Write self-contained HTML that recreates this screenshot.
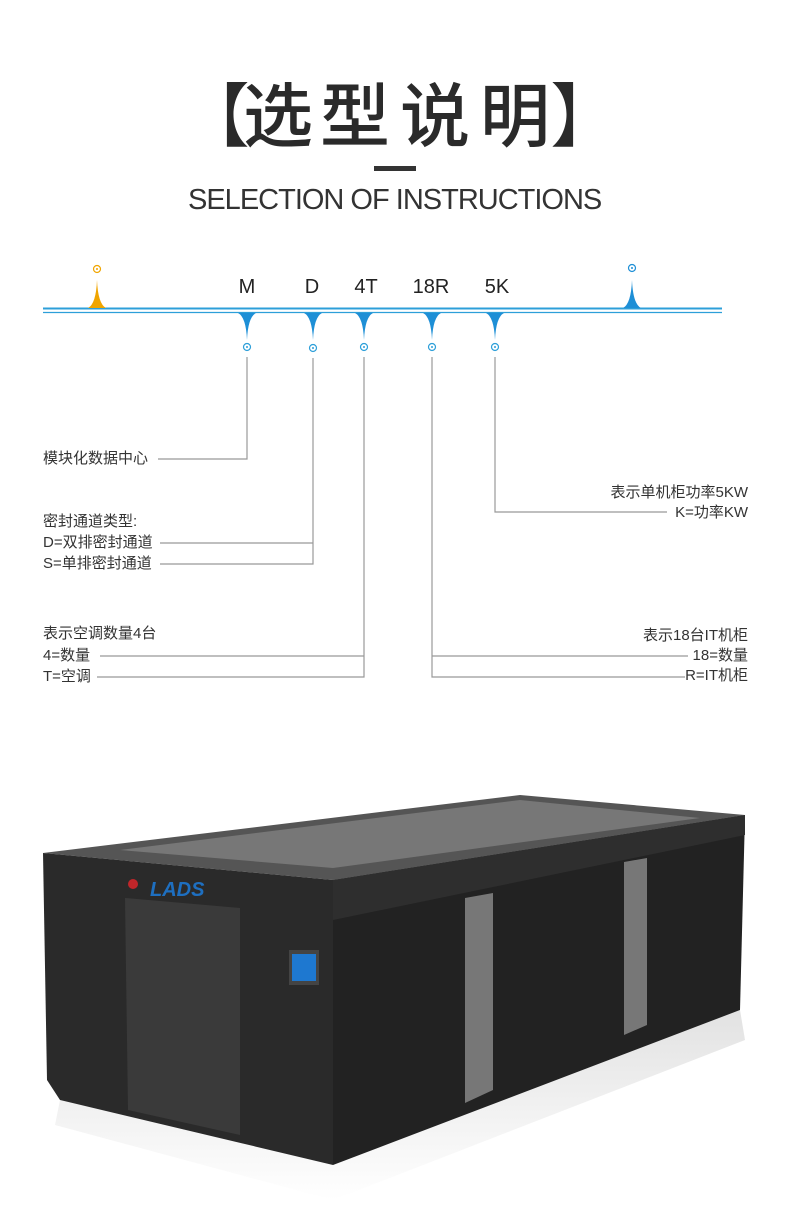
<!DOCTYPE html>
<html><head><meta charset="utf-8"><style>
html,body{margin:0;padding:0;background:#fff;}
body{width:790px;height:1221px;position:relative;overflow:hidden;font-family:"Liberation Sans","Noto Sans CJK SC",sans-serif;}
.t{position:absolute;color:#333;font-size:15px;white-space:nowrap;line-height:16px;}
.h{position:absolute;top:72px;font-size:70px;line-height:80px;font-weight:500;color:#2a2a2a;font-family:"Noto Sans CJK SC",sans-serif;}
</style></head><body>
<div class="h" style="left:180px;font-weight:300;">【</div>
<div class="h" style="left:243px;">选</div>
<div class="h" style="left:320px;">型</div>
<div class="h" style="left:400px;">说</div>
<div class="h" style="left:480px;">明</div>
<div class="h" style="left:550px;font-weight:300;">】</div>
<div style="position:absolute;left:374px;top:166px;width:42px;height:5px;background:#333"></div>
<div class="t" style="left:188px;top:182px;font-size:29px;line-height:36px;color:#333;letter-spacing:-1px;">SELECTION OF INSTRUCTIONS</div>

<svg width="790" height="1221" style="position:absolute;left:0;top:0" xmlns="http://www.w3.org/2000/svg">
<line x1="43" y1="308.5" x2="722" y2="308.5" stroke="#2d9fd9" stroke-width="2"/>
<line x1="43" y1="312.5" x2="722" y2="312.5" stroke="#2d9fd9" stroke-width="1.2"/>
<path d="M88 308 Q96 304 97 280 Q98 304 106 308Z" fill="#f0a500"/>
<circle cx="97" cy="269" r="3.5" fill="none" stroke="#f0a500" stroke-width="1.2"/><circle cx="97" cy="269" r="1" fill="#f0a500"/>
<path d="M623 308 Q631 304 632 280 Q633 304 641 308Z" fill="#1e8fd6"/>
<circle cx="632" cy="268" r="3.5" fill="none" stroke="#1e8fd6" stroke-width="1.2"/><circle cx="632" cy="268" r="1" fill="#1e8fd6"/>
<g fill="#1e8fd6">
<path d="M238 313 Q246 317 247 340 Q248 317 256 313Z"/>
<path d="M304 313 Q312 317 313 340 Q314 317 322 313Z"/>
<path d="M355 313 Q363 317 364 340 Q365 317 373 313Z"/>
<path d="M423 313 Q431 317 432 340 Q433 317 441 313Z"/>
<path d="M486 313 Q494 317 495 340 Q496 317 504 313Z"/>
</g>
<g fill="none" stroke="#2d9fd9" stroke-width="1.2">
<circle cx="247" cy="347" r="3.5"/><circle cx="313" cy="348" r="3.5"/><circle cx="364" cy="347" r="3.5"/><circle cx="432" cy="347" r="3.5"/><circle cx="495" cy="347" r="3.5"/>
</g>
<g fill="#2d9fd9"><circle cx="247" cy="347" r="1"/><circle cx="313" cy="348" r="1"/><circle cx="364" cy="347" r="1"/><circle cx="432" cy="347" r="1"/><circle cx="495" cy="347" r="1"/></g>
<g fill="none" stroke="#999" stroke-width="1.2">
<polyline points="247,357 247,459 158,459"/>
<polyline points="313,358 313,564 160,564"/>
<line x1="160" y1="543" x2="313" y2="543"/>
<polyline points="364,357 364,677 97,677"/>
<line x1="100" y1="656" x2="364" y2="656"/>
<polyline points="432,357 432,677 685,677"/>
<line x1="432" y1="656" x2="688" y2="656"/>
<polyline points="495,357 495,512 667,512"/>
</g>
<g font-family="Liberation Sans,sans-serif" font-size="20" fill="#222" text-anchor="middle">
<text x="247" y="293">M</text><text x="312" y="293">D</text><text x="366" y="293">4T</text><text x="431" y="293">18R</text><text x="497" y="293">5K</text>
</g>

<defs><linearGradient id="sh" x1="0" y1="0" x2="0" y2="1"><stop offset="0" stop-color="#e2e2e2"/><stop offset="1" stop-color="#fff"/></linearGradient></defs>
<polygon points="60,1100 333,1165 740,1010 745,1040 333,1200 55,1125" fill="url(#sh)"/>
<polygon points="43,853 520,795 745,815 333,880" fill="#555"/>
<polygon points="120,850 520,800 700,818 333,868" fill="#9a9a9a" opacity="0.5"/>
<polygon points="43,853 333,880 333,1165 60,1100 47,1080" fill="#2a2a2a"/>
<polygon points="333,880 745,815 740,1010 333,1165" fill="#222"/>
<polygon points="333,880 745,815 745,835 333,920" fill="#2e2e2e"/>
<polygon points="125,898 240,908 240,1135 128,1110" fill="#3a3a3a"/>
<polygon points="465,898 493,893 493,1090 465,1103" fill="#777"/>
<polygon points="624,862 647,858 647,1025 624,1035" fill="#777"/>
<rect x="289" y="950" width="30" height="35" fill="#444"/><rect x="292" y="954" width="24" height="27" fill="#1e78d0"/>
<circle cx="133" cy="884" r="5" fill="#c0262a"/>
<text x="150" y="896" font-family="Liberation Sans,sans-serif" font-weight="bold" font-style="italic" font-size="20" fill="#1e6fc0">LADS</text>
</svg>

<div class="t" style="left:43px;top:451px;">模块化数据中心</div>
<div class="t" style="left:43px;top:514px;">密封通道类型:</div>
<div class="t" style="left:43px;top:535px;">D=双排密封通道</div>
<div class="t" style="left:43px;top:556px;">S=单排密封通道</div>
<div class="t" style="left:43px;top:626px;">表示空调数量4台</div>
<div class="t" style="left:43px;top:648px;">4=数量</div>
<div class="t" style="left:43px;top:669px;">T=空调</div>
<div class="t" style="right:42px;top:485px;text-align:right;">表示单机柜功率5KW</div>
<div class="t" style="right:42px;top:505px;text-align:right;">K=功率KW</div>
<div class="t" style="right:42px;top:628px;text-align:right;">表示18台IT机柜</div>
<div class="t" style="right:42px;top:648px;text-align:right;">18=数量</div>
<div class="t" style="right:42px;top:668px;text-align:right;">R=IT机柜</div>
</body></html>
